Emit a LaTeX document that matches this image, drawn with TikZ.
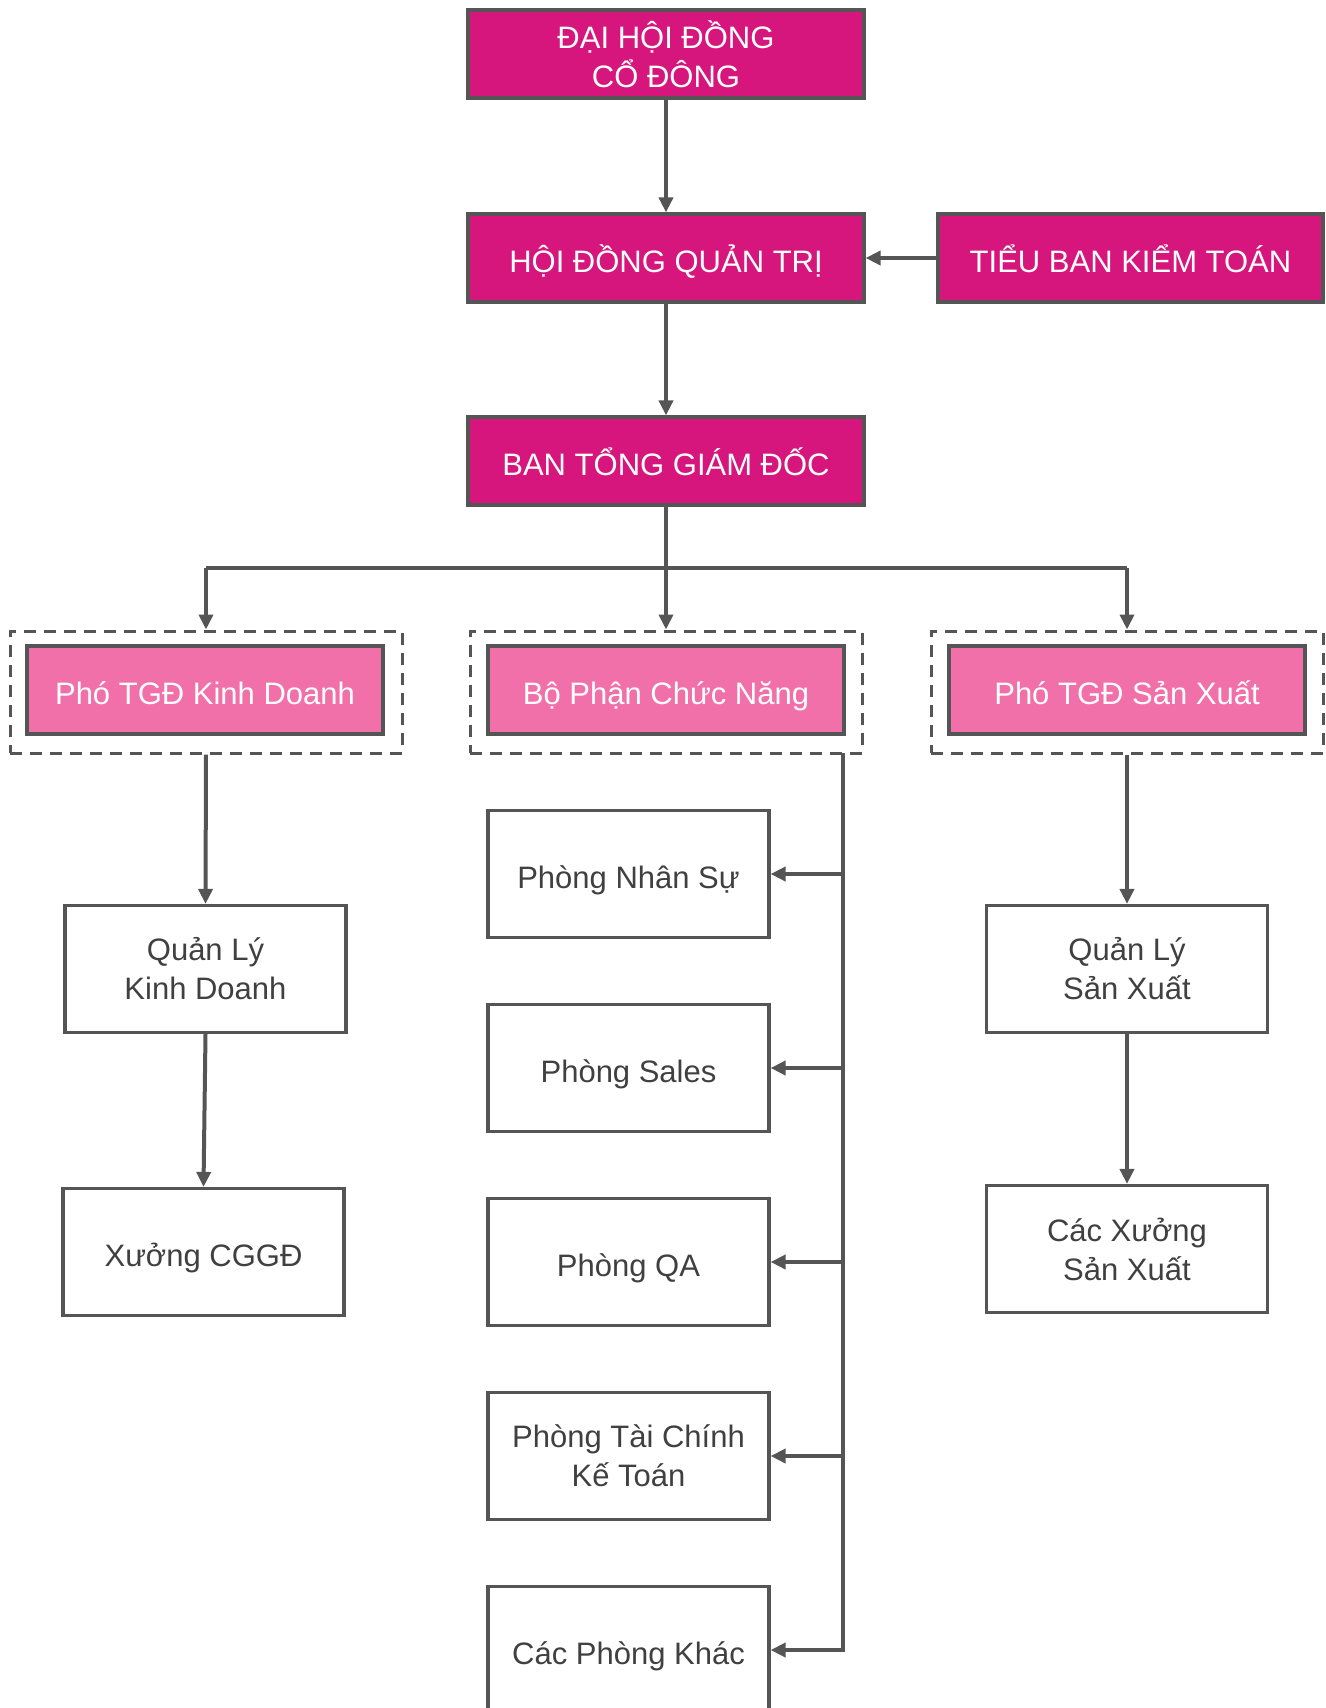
\documentclass[tikz,border=0pt]{standalone}
\usepackage{fontspec}
\setmainfont{Liberation Sans}
\usetikzlibrary{arrows.meta}
\definecolor{boardred}{RGB}{214,22,124}
\definecolor{deputypink}{RGB}{242,112,169}
\definecolor{linegray}{RGB}{85,85,85}
\definecolor{textgray}{RGB}{64,64,64}

\begin{document}
\begin{tikzpicture}[
    x=0.5pt, y=-0.5pt,
    box/.style={draw=linegray, line width=1.6pt, align=center, inner sep=0pt, font=\fontsize{15.5}{19.5}\selectfont},
    oneline/.style={text height=15.5pt, text depth=1.5pt},
    board/.style={box, fill=boardred, text=white, minimum width=198pt, minimum height=44pt},
    deputy/.style={box, oneline, fill=deputypink, text=white, minimum width=178pt, minimum height=44pt},
    group/.style={draw=linegray, line width=1.5pt, dash pattern=on 6pt off 4pt, minimum width=196pt, minimum height=61pt, inner sep=0pt},
    unit/.style={box, fill=white, text=textgray, minimum width=140.5pt, minimum height=63.5pt},
    arrow/.style={-{Triangle[length=7.5pt,width=7pt]}, draw=linegray, line width=2pt}
]
\useasboundingbox (0,0) rectangle (1326,1708);

% Top management
\node[board] (dhdcd) at (666,54) {ĐẠI HỘI ĐỒNG\\ CỔ ĐÔNG};
\node[board, oneline] (hdqt) at (666,258) {HỘI ĐỒNG QUẢN TRỊ};
\node[board, oneline, minimum width=192.5pt] (tbkt) at (1130.5,258) {TIỂU BAN KIỂM TOÁN};
\node[board, oneline] (btgd) at (666,461) {BAN TỔNG GIÁM ĐỐC};

% Dashed groups
\node[group] (gleft) at (206,692) {};
\node[group] (gmid) at (666,692) {};
\node[group] (gright) at (1127,692) {};

\node[deputy] (kd) at (205,690) {Phó TGĐ Kinh Doanh};
\node[deputy] (cn) at (666,690) {Bộ Phận Chức Năng};
\node[deputy] (sx) at (1127,690) {Phó TGĐ Sản Xuất};

% Business side
\node[unit] (qlkd) at (205.5,969) {Quản Lý\\ Kinh Doanh};
\node[unit, oneline] (cggd) at (203.5,1252) {Xưởng CGGĐ};

% Production side
\node[unit] (qlsx) at (1127,969) {Quản Lý\\ Sản Xuất};
\node[unit] (xuong) at (1127,1249) {Các Xưởng\\ Sản Xuất};

% Functional departments
\node[unit, oneline] (nhansu) at (628.5,874) {Phòng Nhân Sự};
\node[unit, oneline] (sales) at (628.5,1068) {Phòng Sales};
\node[unit, oneline] (qa) at (628.5,1262) {Phòng QA};
\node[unit] (taichinh) at (628.5,1456) {Phòng Tài Chính\\ Kế Toán};
\node[unit, oneline] (khac) at (628.5,1650) {Các Phòng Khác};

% Connectors
\draw[arrow] (dhdcd) -- (hdqt);
\draw[arrow] (tbkt) -- (hdqt);
\draw[arrow] (hdqt) -- (btgd);

\coordinate (bus) at (666,568);
\draw[linegray, line width=2pt] (bus -| gleft.north) -- (bus -| gright.north);
\draw[linegray, line width=2pt] (btgd.south) -- (bus);
\draw[arrow] (bus -| gleft.north) -- (gleft.north);
\draw[arrow] (bus) -- (gmid.north);
\draw[arrow] (bus -| gright.north) -- (gright.north);

\draw[arrow] (gleft.south) -- (qlkd.north);
\draw[arrow] (qlkd.south) -- (cggd.north);
\draw[arrow] (gright.south) -- (qlsx.north);
\draw[arrow] (qlsx.south) -- (xuong.north);

\coordinate (trunk) at (843,753);
\draw[arrow] (trunk) |- (khac.east);
\draw[arrow] (trunk |- nhansu.east) -- (nhansu.east);
\draw[arrow] (trunk |- sales.east) -- (sales.east);
\draw[arrow] (trunk |- qa.east) -- (qa.east);
\draw[arrow] (trunk |- taichinh.east) -- (taichinh.east);

\end{tikzpicture}
\end{document}
